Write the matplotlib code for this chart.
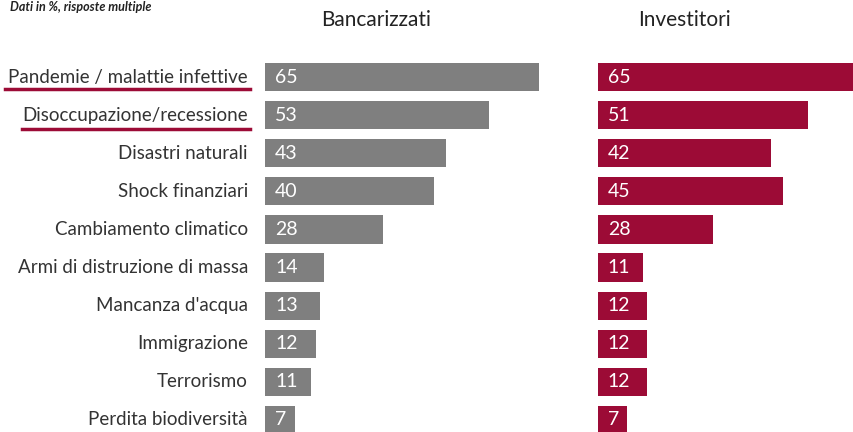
import matplotlib.pyplot as plt

plt.rcParams['font.family'] = ['Lato', 'DejaVu Sans']

categories = ["Pandemie / malattie infettive", "Disoccupazione/recessione", "Disastri naturali",
              "Shock finanziari", "Cambiamento climatico", "Armi di distruzione di massa",
              "Mancanza d'acqua", "Immigrazione", "Terrorismo", "Perdita biodiversità"]
bancarizzati = [65, 53, 43, 40, 28, 14, 13, 12, 11, 7]
investitori = [65, 51, 42, 45, 28, 11, 12, 12, 12, 7]
titles = ["Bancarizzati", "Investitori"]

GRAY = '#7f7f7f'
RED = '#9c0b36'
W, H = 854, 432
scale = 4.22  # px per unit

fig = plt.figure(figsize=(W / 100, H / 100), dpi=100)

top, bottom = 58, 439
def make_ax(x0, x1, sc):
    ax = fig.add_axes([x0 / W, 1 - bottom / H, (x1 - x0) / W, (bottom - top) / H])
    ax.set_xlim(0, (x1 - x0) / sc)
    ax.set_ylim(len(categories) - 0.5, -0.5)
    ax.axis('off')
    return ax

ax1 = make_ax(265, 560, scale)
ax2 = make_ax(598, 854, 4.12)
ypos = range(len(categories))

for ax, vals, col, title, xc in [(ax1, bancarizzati, GRAY, titles[0], 376),
                                 (ax2, investitori, RED, titles[1], 684)]:
    ax.barh(ypos, vals, height=0.74, color=col)
    for i, v in zip(ypos, vals):
        ax.text(2.4, i, str(v), color='white', fontsize=14, va='center', ha='left')
    fig.text(xc / W, 1 - 20 / H, title, fontsize=15, ha='center', va='center', color='#222222')

for i, c in zip(ypos, categories):
    ax1.text(-17 / scale, i, c, fontsize=13.5, ha='right', va='center', color='#333333', clip_on=False)

# underlines under the first two labels
fig.add_artist(plt.Line2D([5 / W, 250 / W], [1 - 89 / H, 1 - 89 / H], color=RED, lw=2.5))
fig.add_artist(plt.Line2D([22 / W, 250 / W], [1 - 129 / H, 1 - 129 / H], color=RED, lw=2.5))

fig.text(10 / W, 1 - 1 / H, "Dati in %, risposte multiple", fontsize=9, style='italic',
         fontweight='bold', ha='left', va='top', color='#222222')

fig.savefig('out.png', dpi=100)
